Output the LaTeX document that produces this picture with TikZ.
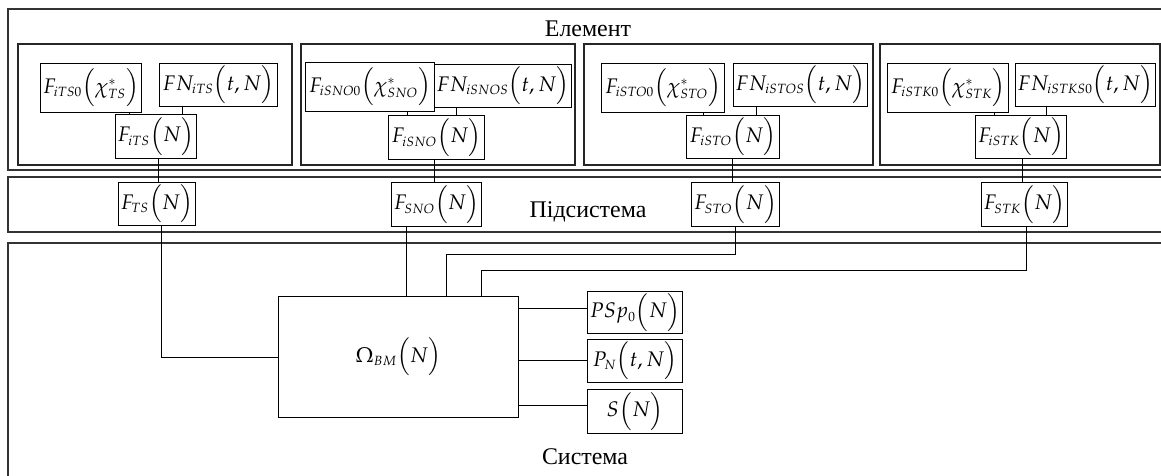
\documentclass[tikz,border=0pt]{standalone}
\usepackage{amsmath}
\usepackage{mathpazo}
\usepackage{fontspec}
\setmainfont{Liberation Serif}
\DeclareMathSizes{15}{15}{9.5}{7}

\tikzset{
  frame/.style={draw=black!80, line width=1pt},
  grp/.style={draw=black!85, line width=0.9pt},
  blk/.style 2 args={draw, line width=0.8pt, anchor=north west, inner sep=0pt,
    minimum width=#1*0.025cm, minimum height=#2*0.025cm,
    font=\fontsize{15}{16}\selectfont},
  lnk/.style={line width=0.7pt},
  lbl/.style={font=\fontsize{17}{19}\selectfont}
}

\begin{document}
\begin{tikzpicture}[x=0.025cm, y=-0.025cm]
        \useasboundingbox (0,0) rectangle (1161,475);
        \clip (0,0) rectangle (1161,475);

        % levels
        \draw [frame] (8,9) rectangle (1190,170);
        \draw [frame] (8,177) rectangle (1190,232);
        \draw [frame] (8,243) rectangle (1190,500);
        \node [lbl] (elem) at (588,29) {Елемент};
        \node [lbl] (pids) at (588,212) {Підсистема};
        \node [lbl] (syst) at (585,457) {Система};

        % element groups
        \draw [grp] (18,44) rectangle (292,165);
        \draw [grp] (301,44) rectangle (575,165);
        \draw [grp] (584,44) rectangle (873,165);
        \draw [grp] (880,44) rectangle (1160,165);

        \node [blk={101}{49}] (e1a) at (40,63) {$F_{iTS0}\Bigl(\chi^{*}_{TS}\Bigr)$};
        \node [blk={118}{43}] (e1b) at (159,63) {$FN_{iTS}\Bigl(t,N\Bigr)$};
        \node [blk={81}{44}] (e1c) at (115,114) {$F_{iTS}\Bigl(N\Bigr)$};
        \node [blk={77}{43}] (s1) at (118,182) {$F_{TS}\Bigl(N\Bigr)$};

        \node [blk={129}{49}] (e2a) at (305,62) {$F_{iSNO0}\Bigl(\chi^{*}_{SNO}\Bigr)$};
        \node [blk={137}{43}] (e2b) at (434,64) {$FN_{iSNOS}\Bigl(t,N\Bigr)$};
        \node [blk={96}{44}] (e2c) at (388,115) {$F_{iSNO}\Bigl(N\Bigr)$};
        \node [blk={90}{44}] (s2) at (391,182) {$F_{SNO}\Bigl(N\Bigr)$};

        \node [blk={123}{49}] (e3a) at (601,63) {$F_{iSTO0}\Bigl(\chi^{*}_{STO}\Bigr)$};
        \node [blk={134}{43}] (e3b) at (733,63) {$FN_{iSTOS}\Bigl(t,N\Bigr)$};
        \node [blk={93}{43}] (e3c) at (686,115) {$F_{iSTO}\Bigl(N\Bigr)$};
        \node [blk={88}{44}] (s3) at (691,182) {$F_{STO}\Bigl(N\Bigr)$};

        \node [blk={121}{49}] (e4a) at (887,63) {$F_{iSTK0}\Bigl(\chi^{*}_{STK}\Bigr)$};
        \node [blk={140}{43}] (e4b) at (1015,63) {$FN_{iSTKS0}\Bigl(t,N\Bigr)$};
        \node [blk={91}{43}] (e4c) at (975,115) {$F_{iSTK}\Bigl(N\Bigr)$};
        \node [blk={86}{44}] (s4) at (981,182) {$F_{STK}\Bigl(N\Bigr)$};

        % system
        \node [blk={240}{121}] (om) at (278,296) {$\Omega_{BM}\Bigl(N\Bigr)$};
        \node [blk={95}{42}] (p1) at (587,291) {$PSp_{0}\Bigl(N\Bigr)$};
        \node [blk={95}{43}] (p2) at (587,339) {$P_{N}\Bigl(t,N\Bigr)$};
        \node [blk={95}{44}] (p3) at (587,389) {$S\Bigl(N\Bigr)$};

        % links inside elements
        \draw [lnk] (129,0 |- e1a.south) -- (129,0 |- e1c.north);
        \draw [lnk] (182,0 |- e1b.south) -- (182,0 |- e1c.north);
        \draw [lnk] (407,0 |- e2a.south) -- (407,0 |- e2c.north);
        \draw [lnk] (456,0 |- e2b.south) -- (456,0 |- e2c.north);
        \draw [lnk] (703,0 |- e3a.south) -- (703,0 |- e3c.north);
        \draw [lnk] (756,0 |- e3b.south) -- (756,0 |- e3c.north);
        \draw [lnk] (994,0 |- e4a.south) -- (994,0 |- e4c.north);
        \draw [lnk] (1046,0 |- e4b.south) -- (1046,0 |- e4c.north);

        % element to subsystem
        \draw [lnk] (158,0 |- e1c.south) -- (158,0 |- s1.north);
        \draw [lnk] (434,0 |- e2c.south) -- (434,0 |- s2.north);
        \draw [lnk] (732,0 |- e3c.south) -- (732,0 |- s3.north);
        \draw [lnk] (1022,0 |- e4c.south) -- (1022,0 |- s4.north);

        % subsystem to system
        \draw [lnk] (161,0 |- s1.south) |- (om.west);
        \draw [lnk] (406,0 |- s2.south) -- (406,0 |- om.north);
        \draw [lnk] (735,0 |- s3.south) |- (446,254) -- (446,0 |- om.north);
        \draw [lnk] (1026,0 |- s4.south) |- (481,270) -- (481,0 |- om.north);

        \draw [lnk] (om.east |- 0,308) -- (p1.west |- 0,308);
        \draw [lnk] (om.east |- 0,360) -- (p2.west |- 0,360);
        \draw [lnk] (om.east |- 0,405) -- (p3.west |- 0,405);
\end{tikzpicture}
\end{document}
